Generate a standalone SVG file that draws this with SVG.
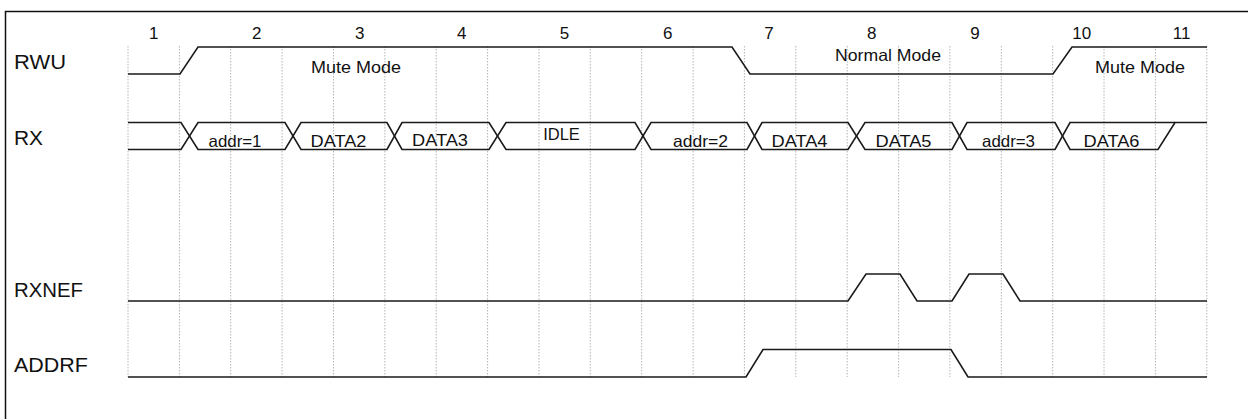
<svg xmlns="http://www.w3.org/2000/svg" width="1248" height="419" viewBox="0 0 1248 419">
<style>
.grid{stroke:#b4b4b4;stroke-width:1;stroke-dasharray:1.5 1.5;fill:none}
.wave{stroke:#1a1a1a;stroke-width:1.6;fill:none;stroke-linejoin:miter}
.lbl{font-family:"Liberation Sans",Arial,sans-serif;font-size:21px;fill:#111}
.num{font-family:"Liberation Sans",Arial,sans-serif;font-size:17px;fill:#111;text-anchor:middle}
.txt{font-family:"Liberation Sans",Arial,sans-serif;font-size:16.5px;fill:#111;text-anchor:middle}
</style>
<rect x="0" y="0" width="1248" height="419" fill="#fff"/>
<g id="frame">
<path d="M5.5,419 V11.5 H1248" fill="none" stroke="#111" stroke-width="1.5"/>
</g>
<g id="grid">
<path class="grid" d="M128,46V377M179.4,46V377M230.7,46V377M282.1,46V377M333.5,46V377M384.9,46V377M436.2,46V377M487.6,46V377M539,46V377M590.3,46V377M641.7,46V377M693.1,46V377M744.4,46V377M795.8,46V377M847.2,46V377M898.6,46V377M949.9,46V377M1001.3,46V377M1052.7,46V377M1104,46V377M1155.4,46V377M1206.8,46V377"/>
</g>
<g id="cycle-numbers">
<text class="num" x="153.7" y="38.5">1</text>
<text class="num" x="256.7" y="38.5">2</text>
<text class="num" x="359.7" y="38.5">3</text>
<text class="num" x="461.7" y="38.5">4</text>
<text class="num" x="564.5" y="38.5">5</text>
<text class="num" x="667.7" y="38.5">6</text>
<text class="num" x="769" y="38.5">7</text>
<text class="num" x="871.7" y="38.5">8</text>
<text class="num" x="975" y="38.5">9</text>
<text class="num" x="1081.7" y="38.5">10</text>
<text class="num" x="1181.7" y="38.5">11</text>
</g>
<g id="RWU">
<text class="lbl" x="14" y="69" textLength="52" lengthAdjust="spacingAndGlyphs">RWU</text>
<path class="wave" d="M128,74 H180 L198,47 H732 L750,74 H1053 L1072,47 H1207"/>
<text class="txt" x="356" y="73" textLength="90" lengthAdjust="spacingAndGlyphs">Mute Mode</text>
<text class="txt" x="888" y="61" textLength="106" lengthAdjust="spacingAndGlyphs">Normal Mode</text>
<text class="txt" x="1140" y="73" textLength="90" lengthAdjust="spacingAndGlyphs">Mute Mode</text>
</g>
<g id="RX">
<text class="lbl" x="14" y="145" textLength="29" lengthAdjust="spacingAndGlyphs">RX</text>
<path class="wave" d="M128,122.5 H181 L198,149.5 H285 L301,122.5 H387 L402,149.5 H489 L506,122.5 H635 L651,149.5 H747 L762,122.5 H848 L865,149.5 H952 L967,122.5 H1055 L1070,149.5 H1158 L1175,122.5 H1207"/>
<path class="wave" d="M128,149.5 H181 L198,122.5 H285 L301,149.5 H387 L402,122.5 H489 L506,149.5 H635 L651,122.5 H747 L762,149.5 H848 L865,122.5 H952 L967,149.5 H1055 L1070,122.5 H1175"/>
<text class="txt" x="235" y="146.5" textLength="53" lengthAdjust="spacingAndGlyphs">addr=1</text>
<text class="txt" x="338.5" y="146.5" textLength="56" lengthAdjust="spacingAndGlyphs">DATA2</text>
<text class="txt" x="440" y="145.5" textLength="56" lengthAdjust="spacingAndGlyphs">DATA3</text>
<text class="txt" x="561.5" y="140">IDLE</text>
<text class="txt" x="700.5" y="146.5" textLength="55" lengthAdjust="spacingAndGlyphs">addr=2</text>
<text class="txt" x="799.5" y="146.5" textLength="56" lengthAdjust="spacingAndGlyphs">DATA4</text>
<text class="txt" x="903.5" y="146.5" textLength="56" lengthAdjust="spacingAndGlyphs">DATA5</text>
<text class="txt" x="1008.5" y="146.5" textLength="53" lengthAdjust="spacingAndGlyphs">addr=3</text>
<text class="txt" x="1111.5" y="146.5" textLength="56" lengthAdjust="spacingAndGlyphs">DATA6</text>
</g>
<g id="RXNEF">
<text class="lbl" x="14" y="297" textLength="69" lengthAdjust="spacingAndGlyphs">RXNEF</text>
<path class="wave" d="M128,301 H848 L866,274 H900 L917,301 H952 L969,274 H1003 L1020,301 H1207"/>
</g>
<g id="ADDRF">
<text class="lbl" x="14" y="371.5" textLength="74" lengthAdjust="spacingAndGlyphs">ADDRF</text>
<path class="wave" d="M128,377 H746 L763,349.5 H951 L968,377 H1207"/>
</g>
<g id="connectors"></g>
</svg>
